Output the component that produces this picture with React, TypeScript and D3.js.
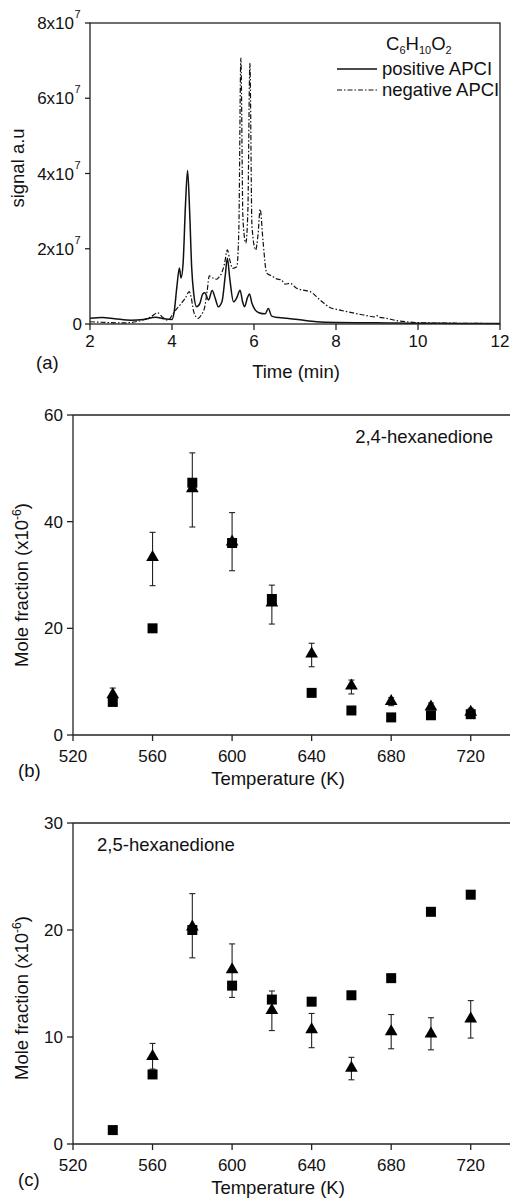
import React from "react";
import * as d3 from "d3";

// chromatogram (a): time in min, signal in units of 1e7
const posTime = [2.0, 2.3, 2.6, 3.0, 3.3, 3.6, 3.8, 4.0, 4.05, 4.12, 4.18, 4.22, 4.27, 4.33, 4.38, 4.43, 4.48, 4.53, 4.6, 4.68, 4.75, 4.8, 4.89, 4.98, 5.05, 5.13, 5.22, 5.3, 5.35, 5.41, 5.5, 5.58, 5.66, 5.72, 5.77, 5.84, 5.89, 5.95, 6.02, 6.12, 6.27, 6.35, 6.43, 6.6, 6.8, 7.12, 7.53, 8.0, 8.5, 9.0, 9.5, 10, 11, 12];
const posSignal = [0.15, 0.17, 0.14, 0.1, 0.12, 0.18, 0.14, 0.12, 0.3, 1.0, 1.49, 1.22, 1.6, 3.2, 4.08, 3.0, 1.5, 0.8, 0.46, 0.55, 0.8, 0.83, 0.64, 0.89, 0.7, 0.46, 0.6, 1.3, 1.75, 1.2, 0.59, 0.7, 0.9, 0.6, 0.46, 0.7, 0.8, 0.55, 0.39, 0.3, 0.27, 0.41, 0.21, 0.17, 0.15, 0.11, 0.06, 0.04, 0.035, 0.03, 0.025, 0.02, 0.015, 0.01];

const negTime = [2.0, 2.4, 2.8, 3.2, 3.5, 3.65, 3.75, 3.9, 4.03, 4.15, 4.23, 4.33, 4.42, 4.47, 4.52, 4.58, 4.64, 4.72, 4.8, 4.86, 4.91, 5.0, 5.09, 5.15, 5.21, 5.28, 5.35, 5.41, 5.48, 5.58, 5.63, 5.68, 5.73, 5.8, 5.85, 5.9, 5.95, 6.04, 6.1, 6.15, 6.22, 6.31, 6.43, 6.55, 6.67, 6.76, 6.88, 7.04, 7.2, 7.37, 7.61, 7.85, 8.05, 8.26, 8.67, 8.95, 9.0, 9.05, 9.24, 9.48, 9.8, 10.2, 11, 12];
const negSignal = [0.06, 0.04, 0.03, 0.08, 0.2, 0.3, 0.2, 0.1, 0.28, 0.45, 0.55, 0.7, 0.86, 0.7, 0.37, 0.2, 0.15, 0.25, 0.46, 0.9, 1.28, 1.22, 1.19, 1.25, 1.35, 1.6, 1.97, 1.7, 1.48, 1.52, 2.5, 7.07, 2.8, 2.15, 3.0, 6.93, 2.6, 1.97, 2.4, 3.05, 2.2, 1.35, 1.28, 1.2, 1.17, 1.06, 1.08, 0.95, 0.9, 0.86, 0.64, 0.44, 0.38, 0.33, 0.24, 0.19, 0.22, 0.18, 0.15, 0.09, 0.05, 0.03, 0.02, 0.01];

const timeTicks = [2, 4, 6, 8, 10, 12];
const signalTicks = [0, 2, 4, 6, 8];

// mole fractions (x1e-6)
const temps = [540, 560, 580, 600, 620, 640, 660, 680, 700, 720];
const tempTicks = [520, 560, 600, 640, 680, 720];

const hex24Square = [6.2, 20, 47.3, 36, 25.5, 7.9, 4.6, 3.3, 3.7, 3.9];
const hex24Tri = [7.6, 33.3, 46.2, 36.2, 24.8, 15.2, 9.2, 6.3, 5.3, 4.3];
const hex24Lo = [6.5, 28, 39, 30.8, 20.8, 12.8, 7.7, 5.5, 4.8, 3.8];
const hex24Hi = [8.8, 38, 52.9, 41.7, 28.1, 17.2, 10.3, 7.0, 6.0, 5.0];

const hex25Square = [1.3, 6.5, 20, 14.8, 13.5, 13.3, 13.9, 15.5, 21.7, 23.3];
const hex25Tri = [null, 8.2, 20.3, 16.3, 12.5, 10.7, 7.1, 10.5, 10.3, 11.7];
const hex25Lo = [null, 7.0, 17.4, 13.7, 10.6, 9.0, 6.0, 8.9, 8.8, 9.9];
const hex25Hi = [null, 9.4, 23.4, 18.7, 14.3, 12.2, 8.1, 12.1, 11.8, 13.4];

const FONT = "'Liberation Sans', Arial, sans-serif";
const TICK = 17;
const LABEL = 18.5;

const toPts = (xs: number[], ys: (number | null)[]) =>
  xs.map((x, i) => ({ x, y: ys[i] })).filter(d => d.y != null) as { x: number; y: number }[];

function ChromPanel() {
  const x = d3.scaleLinear().domain([2, 12]).range([90, 500]);
  const y = d3.scaleLinear().domain([0, 8]).range([324, 23]);
  const line = d3.line<{ x: number; y: number }>().x(d => x(d.x)).y(d => y(d.y)).curve(d3.curveMonotoneX);
  const pos = toPts(posTime, posSignal);
  const neg = toPts(negTime, negSignal);
  return (
    <g>
      <path d={line(neg) || ""} fill="none" stroke="#111" strokeWidth={1.2} strokeDasharray="5,2,1.5,2" />
      <path d={line(pos) || ""} fill="none" stroke="#111" strokeWidth={1.5} />
      <rect x={90} y={23} width={410} height={301} fill="none" stroke="#222" strokeWidth={1.3} />
      {signalTicks.map(t => (
        <g key={t} fontSize={TICK}>
          <line x1={85} x2={90} y1={y(t)} y2={y(t)} stroke="#222" strokeWidth={1.3} />
          <text x={t === 0 ? 82 : 74} y={y(t)} dy="0.36em" textAnchor="end">{t === 0 ? "0" : `${t}x10`}</text>
          {t !== 0 && <text x={74.5} y={y(t) - 5} fontSize={11}>7</text>}
        </g>
      ))}
      {timeTicks.map(t => (
        <g key={t}>
          <line x1={x(t)} x2={x(t)} y1={324} y2={330} stroke="#222" strokeWidth={1.3} />
          <text x={x(t)} y={347} textAnchor="middle" fontSize={TICK}>{t}</text>
        </g>
      ))}
      <text x={296} y={378} textAnchor="middle" fontSize={LABEL}>Time (min)</text>
      <text x={36} y={369} fontSize={LABEL}>(a)</text>
      <text transform="translate(24,168) rotate(-90)" textAnchor="middle" fontSize={LABEL}>signal a.u</text>
      {/* legend */}
      <text x={386} y={50} fontSize={LABEL}>C<tspan fontSize={11} dy={4}>6</tspan><tspan dy={-4}>H</tspan><tspan fontSize={11} dy={4}>10</tspan><tspan dy={-4}>O</tspan><tspan fontSize={11} dy={4}>2</tspan></text>
      <line x1={337} x2={377} y1={69} y2={69} stroke="#111" strokeWidth={1.5} />
      <text x={382} y={75} fontSize={LABEL}>positive APCI</text>
      <line x1={337} x2={377} y1={90} y2={90} stroke="#111" strokeWidth={1.2} strokeDasharray="5,2,1.5,2" />
      <text x={382} y={96} fontSize={LABEL}>negative APCI</text>
    </g>
  );
}

interface MoleProps {
  y0: number;
  y1: number;
  yMax: number;
  yTicks: number[];
  squares: number[];
  tris: (number | null)[];
  lo: (number | null)[];
  hi: (number | null)[];
  label: string;
  labelX: number;
  labelY: number;
  labelAnchor: string;
  tag: string;
  titleY: number;
}

function MolePanel(p: MoleProps) {
  const x = d3.scaleLinear().domain([520, 740]).range([73, 510.5]);
  const y = d3.scaleLinear().domain([0, p.yMax]).range([p.y0, p.y1]);
  const sq = d3.symbol().type(d3.symbolSquare).size(100)();
  const tri = d3.symbol().type(d3.symbolTriangle).size(70)();
  return (
    <g>
      <line x1={73} x2={510} y1={p.y1} y2={p.y1} stroke="#222" strokeWidth={1.3} />
      <line x1={73} x2={510} y1={p.y0} y2={p.y0} stroke="#222" strokeWidth={1.3} />
      <line x1={73} x2={73} y1={p.y1} y2={p.y0} stroke="#222" strokeWidth={1.3} />
      {p.yTicks.map(t => (
        <g key={t}>
          <line x1={67} x2={73} y1={y(t)} y2={y(t)} stroke="#222" strokeWidth={1.3} />
          <text x={63} y={y(t)} dy="0.36em" textAnchor="end" fontSize={TICK}>{t}</text>
        </g>
      ))}
      {tempTicks.map(t => (
        <g key={t}>
          <line x1={x(t)} x2={x(t)} y1={p.y0} y2={p.y0 + 6} stroke="#222" strokeWidth={1.3} />
          <text x={x(t)} y={p.y0 + 27} textAnchor="middle" fontSize={TICK}>{t}</text>
        </g>
      ))}
      {temps.map((t, i) => p.lo[i] != null && (
        <g key={"e" + t} stroke="#222" strokeWidth={1.1}>
          <line x1={x(t)} x2={x(t)} y1={y(p.lo[i] as number)} y2={y(p.hi[i] as number)} />
          <line x1={x(t) - 3} x2={x(t) + 3} y1={y(p.lo[i] as number)} y2={y(p.lo[i] as number)} />
          <line x1={x(t) - 3} x2={x(t) + 3} y1={y(p.hi[i] as number)} y2={y(p.hi[i] as number)} />
        </g>
      ))}
      {temps.map((t, i) => (
        <path key={"s" + t} d={sq || ""} transform={`translate(${x(t)},${y(p.squares[i])})`} fill="#000" />
      ))}
      {temps.map((t, i) => p.tris[i] != null && (
        <path key={"t" + t} d={tri || ""} transform={`translate(${x(t)},${y(p.tris[i] as number)})`} fill="#000" />
      ))}
      <text x={p.labelX} y={p.labelY} textAnchor={p.labelAnchor} fontSize={LABEL}>{p.label}</text>
      <text x={18} y={p.y0 + 42} fontSize={LABEL}>{p.tag}</text>
      <text x={278} y={p.y0 + 50} textAnchor="middle" fontSize={LABEL}>Temperature (K)</text>
      <text transform={`translate(28,${p.titleY}) rotate(-90)`} textAnchor="middle" fontSize={LABEL}>
        Mole fraction (x10<tspan fontSize={12} dy={-7}>-6</tspan><tspan dy={7}>)</tspan>
      </text>
    </g>
  );
}

export default function App() {
  return (
    <svg width={510} height={1200} style={{ position: "absolute", left: 0, top: 0, background: "#fff" }}
      fontFamily={FONT} fill="#111">
      <ChromPanel />
      <MolePanel y0={735} y1={415} yMax={60} yTicks={[0, 20, 40, 60]} squares={hex24Square} tris={hex24Tri}
        lo={hex24Lo} hi={hex24Hi} label="2,4-hexanedione" labelX={493} labelY={443} labelAnchor="end" tag="(b)" titleY={585} />
      <MolePanel y0={1144} y1={823} yMax={30} yTicks={[0, 10, 20, 30]} squares={hex25Square} tris={hex25Tri}
        lo={hex25Lo} hi={hex25Hi} label="2,5-hexanedione" labelX={97} labelY={851} labelAnchor="start" tag="(c)" titleY={998} />
    </svg>
  );
}
